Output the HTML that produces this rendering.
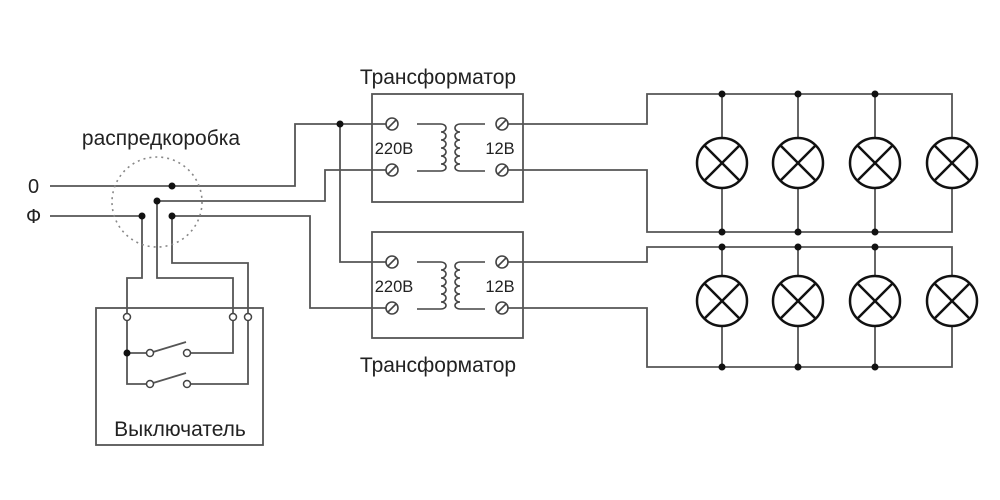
<!DOCTYPE html>
<html><head><meta charset="utf-8"><style>
html,body{margin:0;padding:0;background:#fff;}
svg{display:block;}
text{font-family:"Liberation Sans",sans-serif;fill:#222;}
</style></head><body>
<svg width="1000" height="500" viewBox="0 0 1000 500" xmlns="http://www.w3.org/2000/svg">
<defs>
<g id="term"><circle r="6" fill="#fff" stroke="#444" stroke-width="1.6"/><line x1="-4" y1="4" x2="4" y2="-4" stroke="#444" stroke-width="1.6"/></g>
<g id="lamp"><circle r="25" fill="#fff" stroke="#111" stroke-width="2.5"/><line x1="-17.7" y1="-17.7" x2="17.7" y2="17.7" stroke="#111" stroke-width="2.5"/><line x1="-17.7" y1="17.7" x2="17.7" y2="-17.7" stroke="#111" stroke-width="2.5"/></g>
<g id="xf" fill="none" stroke="#444" stroke-width="1.6">
<path d="M417 0 H441 M417 47 H441 M441 0 a5 4 0 0 1 0 8 a5 4 0 0 1 0 8 a5 4 0 0 1 0 8 a5 4 0 0 1 0 8 a5 4 0 0 1 0 8 a5 3.5 0 0 1 0 7"/>
<path d="M485 0 H460 M485 47 H460 M460 0 a5 4 0 0 0 0 8 a5 4 0 0 0 0 8 a5 4 0 0 0 0 8 a5 4 0 0 0 0 8 a5 4 0 0 0 0 8 a5 3.5 0 0 0 0 7"/>
</g>
</defs>
<g fill="none" stroke="#555" stroke-width="1.8">
<path d="M50 186 H295 V124 H392"/>
<path d="M157 201 H325 V170 H392"/>
<path d="M50 216 H142"/>
<path d="M172 216 H310 V308 H392"/>
<path d="M340 124 V262 H392"/>
<path d="M142 216 V278 H127 V317"/>
<path d="M157 201 V278 H233 V317"/>
<path d="M172 216 V263 H248 V317"/>
<rect x="96" y="308" width="167" height="137"/>
<path d="M127 317 V384 H150"/>
<path d="M127 353 H150"/>
<path d="M187 353 H233 V317"/>
<path d="M187 384 H248 V317"/>
<path d="M153 352 L186 342 M153 383 L186 373"/>
<rect x="372" y="94" width="151" height="108"/>
<rect x="372" y="232" width="151" height="106"/>
<path d="M502 124 H647 V94 H952 V232 H647 V170 H502"/>
<path d="M502 262 H647 V247 H952 V367 H647 V308 H502"/>
<path d="M722 94 V232 M798 94 V232 M875 94 V232"/>
<path d="M722 247 V367 M798 247 V367 M875 247 V367"/>
</g>
<circle cx="157" cy="202" r="45" fill="none" stroke="#888" stroke-width="1.6" stroke-dasharray="2 4"/>
<use href="#xf" y="124"/>
<use href="#xf" y="262"/>
<g fill="#111">
<circle cx="172" cy="186" r="3.5"/><circle cx="157" cy="201" r="3.5"/><circle cx="142" cy="216" r="3.5"/><circle cx="172" cy="216" r="3.5"/>
<circle cx="340" cy="124" r="3.5"/><circle cx="127" cy="353" r="3.5"/>
<circle cx="722" cy="94" r="3.5"/><circle cx="798" cy="94" r="3.5"/><circle cx="875" cy="94" r="3.5"/>
<circle cx="722" cy="232" r="3.5"/><circle cx="798" cy="232" r="3.5"/><circle cx="875" cy="232" r="3.5"/>
<circle cx="722" cy="247" r="3.5"/><circle cx="798" cy="247" r="3.5"/><circle cx="875" cy="247" r="3.5"/>
<circle cx="722" cy="367" r="3.5"/><circle cx="798" cy="367" r="3.5"/><circle cx="875" cy="367" r="3.5"/>
</g>
<g fill="#fff" stroke="#444" stroke-width="1.5">
<circle cx="127" cy="317" r="3.5"/><circle cx="233" cy="317" r="3.5"/><circle cx="248" cy="317" r="3.5"/>
<circle cx="150" cy="353" r="3.5"/><circle cx="187" cy="353" r="3.5"/><circle cx="150" cy="384" r="3.5"/><circle cx="187" cy="384" r="3.5"/>
</g>
<use href="#term" x="392" y="124"/><use href="#term" x="392" y="170"/><use href="#term" x="502" y="124"/><use href="#term" x="502" y="170"/>
<use href="#term" x="392" y="262"/><use href="#term" x="392" y="308"/><use href="#term" x="502" y="262"/><use href="#term" x="502" y="308"/>
<use href="#lamp" x="722" y="163"/><use href="#lamp" x="798" y="163"/><use href="#lamp" x="875" y="163"/><use href="#lamp" x="952" y="163"/>
<use href="#lamp" x="722" y="301"/><use href="#lamp" x="798" y="301"/><use href="#lamp" x="875" y="301"/><use href="#lamp" x="952" y="301"/>
<text x="161" y="145" font-size="21" text-anchor="middle">распредкоробка</text>
<text x="28" y="193" font-size="20">0</text>
<text x="26" y="223" font-size="20">Ф</text>
<text x="180" y="436" font-size="21" text-anchor="middle">Выключатель</text>
<text x="438" y="84" font-size="21" text-anchor="middle">Трансформатор</text>
<text x="438" y="372" font-size="21" text-anchor="middle">Трансформатор</text>
<text x="394" y="154" font-size="16.5" text-anchor="middle">220В</text>
<text x="500" y="154" font-size="16.5" text-anchor="middle">12В</text>
<text x="394" y="292" font-size="16.5" text-anchor="middle">220В</text>
<text x="500" y="292" font-size="16.5" text-anchor="middle">12В</text>
</svg>
</body></html>
